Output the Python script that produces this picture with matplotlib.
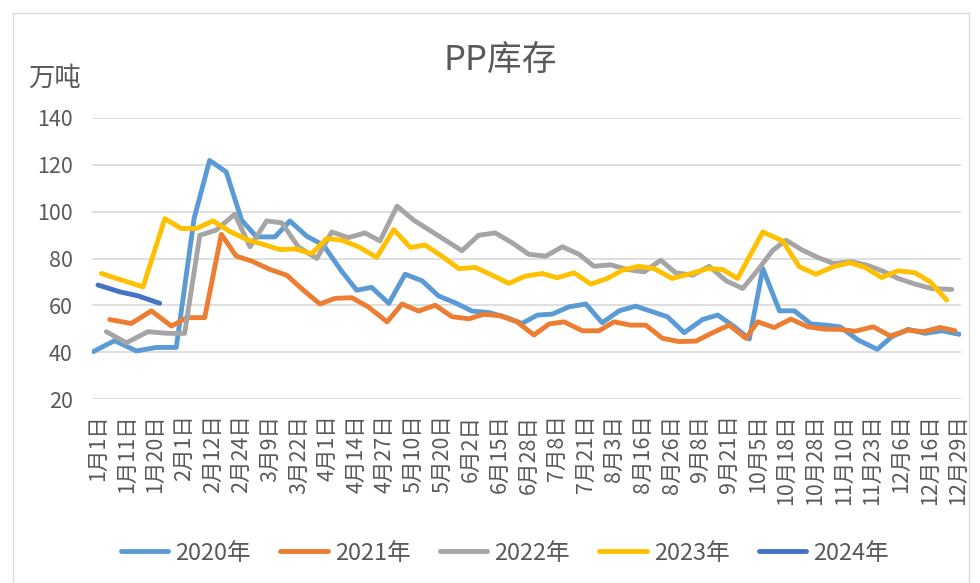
import matplotlib
matplotlib.use("Agg")
import matplotlib.pyplot as plt
from matplotlib.patches import Rectangle

plt.rcParams['font.family'] = ['Noto Sans CJK SC', 'DejaVu Sans']

# ---- data ----
title = "PP库存"
unit = "万吨"
date_labels = ["1月1日", "1月11日", "1月20日", "2月1日", "2月12日", "2月24日", "3月9日",
               "3月22日", "4月1日", "4月14日", "4月27日", "5月10日", "5月20日", "6月2日",
               "6月15日", "6月28日", "7月8日", "7月21日", "8月3日", "8月16日", "8月26日",
               "9月8日", "9月21日", "10月5日", "10月18日", "10月28日", "11月10日",
               "11月23日", "12月6日", "12月16日", "12月29日"]
series_names = ["2020年", "2021年", "2022年", "2023年", "2024年"]

# x = position on the date category axis (in units of labelled dates)
x2020 = [-0.17, 0.58, 1.34, 2.03, 2.73, 3.35, 3.89, 4.47, 5.01, 5.53, 6.17, 6.69, 7.28,
         7.86, 8.50, 9.02, 9.54, 10.14, 10.71, 11.30, 11.88, 12.46, 13.04, 13.62, 14.26,
         14.78, 15.32, 15.84, 16.42, 17.01, 17.58, 18.17, 18.75, 19.33, 19.85, 20.44,
         21.08, 21.61, 22.19, 22.71, 23.18, 23.76, 24.28, 24.86, 25.38, 25.87, 26.51,
         27.17, 27.68, 28.25, 28.84, 29.42, 30.03]
v2020 = [40.3, 45.0, 40.6, 42.1, 42.1, 97.0, 121.8, 116.9, 96.3, 89.2, 89.2, 96.0, 89.5,
         85.7, 74.5, 66.5, 67.7, 60.9, 73.3, 70.5, 64.0, 61.1, 57.6, 57.0, 54.8,
         52.3, 55.9, 56.3, 59.4, 60.6, 52.6, 57.7, 59.7, 57.3, 55.2, 48.4,
         54.0, 55.9, 50.9, 45.7, 75.7, 57.7, 57.7, 52.1, 51.6, 50.9, 45.2,
         41.3, 46.7, 49.8, 48.1, 49.2, 47.7]

x2021 = [0.41, 1.16, 1.86, 2.56, 3.10, 3.72, 4.30, 4.82, 5.36, 6.00, 6.58, 7.16, 7.74,
         8.26, 8.85, 9.42, 10.08, 10.60, 11.18, 11.76, 12.34, 12.93, 13.45, 14.03, 14.61,
         15.20, 15.73, 16.25, 16.89, 17.47, 17.99, 18.57, 19.10, 19.68, 20.26, 20.85,
         21.43, 22.01, 22.59, 23.00, 23.58, 24.16, 24.75, 25.32, 25.87, 26.39, 27.03,
         27.62, 28.25, 28.78, 29.36, 29.88]
v2021 = [54.0, 52.3, 57.7, 51.2, 54.8, 54.8, 90.3, 81.0, 78.9, 75.3, 72.9, 66.5, 60.6,
         63.0, 63.3, 59.4, 53.0, 60.6, 57.6, 60.1, 55.2, 54.3, 56.2, 55.6, 53.0,
         47.4, 52.1, 53.0, 49.2, 49.2, 53.0, 51.6, 51.6, 46.0, 44.6, 44.8,
         48.4, 51.6, 46.0, 53.0, 50.6, 54.2, 50.9, 49.9, 49.8, 49.0, 50.9,
         47.0, 49.5, 48.8, 50.6, 49.2]

x2022 = [0.29, 0.99, 1.74, 2.44, 3.02, 3.55, 4.12, 4.77, 5.30, 5.88, 6.41, 6.98, 7.63,
         8.15, 8.73, 9.31, 9.83, 10.43, 11.01, 11.53, 12.11, 12.69, 13.27, 13.85, 14.44,
         15.02, 15.61, 16.19, 16.77, 17.29, 17.88, 18.46, 19.04, 19.62, 20.14, 20.74,
         21.31, 21.90, 22.48, 23.00, 23.53, 23.99, 24.57, 25.09, 25.64, 26.28, 26.80,
         27.33, 27.90, 28.49, 29.07, 29.77]
v2022 = [48.8, 44.1, 48.8, 48.1, 48.1, 89.9, 92.1, 98.9, 85.0, 96.0, 95.2, 85.0, 80.0,
         91.3, 88.9, 90.9, 87.5, 102.3, 96.3, 92.3, 87.8, 83.3, 89.9, 90.9, 86.7,
         81.8, 81.0, 85.0, 81.8, 76.7, 77.3, 75.3, 74.3, 79.3, 73.9, 72.9,
         76.7, 70.5, 67.2, 75.0, 83.5, 87.8, 83.5, 80.5, 77.9, 78.6, 77.2,
         74.8, 71.5, 69.1, 67.2, 66.8]

x2023 = [0.12, 1.57, 2.33, 2.90, 3.43, 4.01, 4.60, 5.24, 5.76, 6.35, 6.87, 7.45, 7.97,
         8.50, 9.08, 9.72, 10.31, 10.89, 11.41, 11.99, 12.58, 13.16, 13.74, 14.32, 14.90,
         15.49, 16.01, 16.60, 17.18, 17.76, 18.28, 18.86, 19.39, 20.02, 20.68, 21.26,
         21.78, 22.30, 23.18, 23.87, 24.45, 25.03, 25.64, 26.22, 26.74, 27.33, 27.90,
         28.49, 29.01, 29.59]
v2023 = [73.6, 67.9, 97.0, 92.8, 92.8, 96.0, 91.5, 87.8, 86.0, 83.8, 84.1, 82.1, 88.5,
         87.8, 85.0, 80.5, 92.3, 84.7, 85.7, 81.0, 75.7, 76.2, 72.9, 69.4, 72.5,
         73.6, 71.8, 73.9, 69.1, 71.5, 75.0, 76.7, 75.7, 71.5, 73.6, 75.7,
         75.3, 71.5, 91.3, 87.5, 76.5, 73.3, 76.5, 78.2, 76.2, 71.9, 74.8,
         73.9, 70.1, 62.3]

x2024 = [0.0, 0.76, 1.39, 2.15]
v2024 = [68.7, 65.8, 64.1, 60.9]

colors = ["#5B9BD5", "#ED7D31", "#A5A5A5", "#FFC000", "#4472C4"]
y_ticks = [20, 40, 60, 80, 100, 120, 140]

# ---- figure ----
W, H = 980, 583
fig = plt.figure(figsize=(W / 100, H / 100), dpi=100)
fig.patch.set_facecolor("white")

# chart area border
fig.patches.append(Rectangle((13 / W, 0.0), (969 - 13) / W, 1 - 13 / H,
                             transform=fig.transFigure, fill=False,
                             edgecolor="#D9D9D9", lw=1.0))

left, right, top, bottom = 92.3, 960.7, 117.7, 399.3
ax = fig.add_axes([left / W, 1 - bottom / H, (right - left) / W, (bottom - top) / H])

for yt in y_ticks:
    ax.axhline(yt, color="#D9D9D9", lw=1.2, zorder=0)

xs = [x2020, x2021, x2022, x2023, x2024]
vs = [v2020, v2021, v2022, v2023, v2024]
for name, xx, vv, c in zip(series_names, xs, vs, colors):
    ax.plot(xx, vv, color=c, lw=3.5, label=name,
            solid_capstyle="round", solid_joinstyle="round")

ax.set_ylim(20, 140)
ax.set_xlim((left - 98) / 28.68, (right - 98) / 28.68)
ax.set_yticks(y_ticks)
ax.set_yticklabels([str(t) for t in y_ticks])
ax.set_xticks(range(len(date_labels)))
ax.set_xticklabels(date_labels, rotation=90, va="top", ha="center")
ax.tick_params(axis="both", length=0, colors="#595959", labelsize=15.5)
ax.tick_params(axis="y", pad=14)
ax.tick_params(axis="x", pad=11)
for s in ax.spines.values():
    s.set_visible(False)

fig.text(500 / W, 1 - 60 / H, title, ha="center", va="center",
         fontsize=25, color="#595959")
fig.text(54 / W, 1 - 78 / H, unit, ha="center", va="center",
         fontsize=19, color="#595959")

leg = fig.legend(loc="center", bbox_to_anchor=(505 / W, 1 - 553 / H), ncol=5,
                 frameon=False, fontsize=17, handlelength=2.0, handletextpad=0.3,
                 columnspacing=1.25, labelcolor="#595959")
for l in leg.get_lines():
    l.set_linewidth(3.5)
    l.set_solid_capstyle("round")

fig.savefig("out.png", dpi=100)
